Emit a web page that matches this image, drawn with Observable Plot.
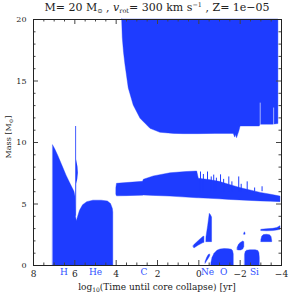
<!DOCTYPE html>
<html><head><meta charset="utf-8">
<script src="https://cdn.jsdelivr.net/npm/d3@7"></script>
<script src="https://cdn.jsdelivr.net/npm/@observablehq/plot@0.6"></script>
<style>
body{margin:0;background:#fff;}
#wrap{width:300px;height:297px;position:relative;font-family:"DejaVu Serif",serif;}
#title{height:14px;line-height:15px;font-size:11px;color:#222;margin-left:31px;width:252px;text-align:center;white-space:nowrap;}
#title sub{font-size:6.5px;vertical-align:-2px;line-height:0;}
#title sup{font-size:6.5px;vertical-align:4px;line-height:0;}
</style></head>
<body><div id="wrap"><div id="title">M= 20 M<sub>⊙</sub> , <i>v</i><sub>rot</sub>= 300 km s<sup>−1</sup> , Z= 1e−05</div><div id="chart"></div></div>
<script>
const blue = "#1e3cff";
// H core + He core convection (top boundary, bottom at 0)
const coreX   = [7.05, 6.95, 6.8, 6.6, 6.4, 6.2, 6.02, 5.97, 5.95, 5.9, 5.85, 5.75, 5.6, 5.4, 5.1, 4.7, 4.4, 4.25, 4.16, 4.14];
const coreTop = [9.76, 9.45, 8.9, 8.1, 7.3, 6.6, 6.0, 5.6, 4.0, 3.6, 3.9, 4.45, 4.9, 5.15, 5.27, 5.27, 5.2, 5.0, 4.6, 4.3];
// thin spike at end of H burning
const spikeM  = [11.3, 8.6, 8.0, 7.5, 7.0, 6.6, 4.0];
const spikeX2 = [5.915, 5.915, 5.85, 5.83, 5.86, 5.91, 5.915];
// convective envelope (from lower boundary up to surface)
const envX   = [3.71, 3.68, 3.62, 3.55, 3.39, 3.15, 2.82, 2.34, 1.86, 1.2, 0.73, 0, -0.8, -1.69, -1.76, -1.8, -1.85, -1.9, -1.96, -2.02, -2.5, -2.95, -3.0, -3.3, -3.6, -3.85];
const envLow = [20, 18.5, 17.3, 16.3, 14.4, 13.0, 11.93, 11.11, 10.79, 10.7, 10.68, 10.68, 10.7, 10.7, 10.4, 10.6, 10.35, 10.6, 10.9, 11.3, 11.3, 11.3, 11.45, 11.45, 11.45, 11.5];
const gapX  = [-2.97, -3.62];
const gapLo = [11.3, 11.4];
const gapHi = [13.2, 12.8];
// intermediate convective shell
const shellX  = [3.99, 3.96, 3.5, 2.7, 2.66, 2.18, 1.37, 0.6, 0.08, 0.0, -0.5, -1.0, -1.5, -2.0, -2.5, -3.0, -3.5, -3.95];
const shellLo = [5.75, 5.62, 5.64, 5.68, 5.69, 5.66, 5.6, 5.52, 5.47, 5.46, 5.43, 5.38, 5.33, 5.29, 5.25, 5.21, 5.18, 5.15];
const shellHi = [6.3, 6.64, 6.7, 6.8, 6.97, 7.24, 7.5, 7.6, 7.64, 7.05, 6.95, 6.8, 6.55, 6.3, 6.1, 5.9, 5.75, 5.6];
const shSpikeX   = [-0.08, -0.22, -0.42, -0.6, -0.72, -0.85, -1.05, -1.2, -1.45, -1.6, -1.93, -2.05, -2.34, -2.7, -3.06, -3.4];
const shSpikeTop = [7.6, 7.4, 7.6, 7.2, 7.35, 7.1, 7.37, 7.0, 7.2, 6.8, 7.2, 6.6, 6.8, 6.3, 6.4, 6.0];
// late burning stages
const cShX  = [0.245, 0.2, 0.0, -0.2, -0.27];
const cShLo = [1.45, 1.41, 1.62, 1.8, 1.84];
const cShHi = [1.6, 1.68, 2.0, 2.3, 2.35];
const neShX  = [-0.37, -0.45, -0.53, -0.58, -0.64];
const neShLo = [1.9, 1.9, 1.9, 1.9, 1.9];
const neShHi = [2.3, 3.2, 4.2, 4.1, 3.9];
const hookX  = [-0.33, -0.4, -0.48, -0.55];
const hookLo = [0.15, 0.35, 0.55, 0.75];
const hookHi = [0.3, 0.6, 0.85, 0.9];
const neCoreX  = [-0.61, -0.66, -0.76, -0.9, -1.05, -1.25, -1.45, -1.6, -1.66, -1.69];
const neCoreHi = [0.2, 0.6, 0.95, 1.2, 1.3, 1.34, 1.33, 1.28, 1.15, 0.9];
const oShX  = [-1.88, -1.95, -2.05, -2.15, -2.2];
const oShLo = [1.25, 1.22, 1.22, 1.3, 1.5];
const oShHi = [1.45, 1.7, 1.85, 1.95, 1.9];
const blipX  = [-2.2, -2.23, -2.26];
const blipLo = [2.5, 2.5, 2.5];
const blipHi = [2.6, 2.7, 2.6];
const oCoreX  = [-2.24, -2.27, -2.33, -2.5, -2.75, -2.88, -2.93, -2.95];
const oCoreHi = [0.9, 1.1, 1.2, 1.24, 1.24, 1.18, 1.0, 0.6];
const siShX  = [-3.03, -3.07, -3.15, -3.3, -3.45, -3.52, -3.55];
const siShLo = [1.9, 1.9, 1.9, 1.9, 1.9, 1.9, 1.9];
const siShHi = [2.1, 2.35, 2.47, 2.5, 2.45, 2.3, 2.0];
const si2X  = [-3.03, -3.3, -3.6, -3.8, -3.95];
const si2Lo = [2.8, 2.78, 2.8, 2.85, 2.9];
const si2Hi = [2.9, 2.95, 2.98, 3.05, 3.2];
// axis ticks and burning-phase labels
const xTicks = [8, 6, 4, 2, 0, -2, -4];
const xMinor = d3.range(-4, 8.01, 0.5);
const yTicks = [0, 5, 10, 15, 20];
const yMinor = d3.range(0, 20.01, 1);
const burnNames = ["H", "He", "C", "Ne", "O", "Si"];
const burnX = [6.53, 5.0, 2.66, -0.42, -1.2, -2.69];

const zone = (name, xs, lo, hi) => xs.map((x, i) => ({zone: name, x, lo: lo ? lo[i] : 0, hi: hi[i]}));
const rows = [
  ...zone("core", coreX, null, coreTop),
  ...zone("env", envX, envLow, envX.map(() => 20)),
  ...zone("shell", shellX, shellLo, shellHi),
  ...zone("cSh", cShX, cShLo, cShHi),
  ...zone("neSh", neShX, neShLo, neShHi),
  ...zone("hook", hookX, hookLo, hookHi),
  ...zone("neCore", neCoreX, null, neCoreHi),
  ...zone("oSh", oShX, oShLo, oShHi),
  ...zone("blip", blipX, blipLo, blipHi),
  ...zone("oCore", oCoreX, null, oCoreHi),
  ...zone("siSh", siShX, siShLo, siShHi),
  ...zone("si2", si2X, si2Lo, si2Hi)
];
const spikeRows = spikeM.map((m, i) => ({m, a: 5.955, b: spikeX2[i]}));
const gapRows = gapX.map((x, i) => ({x, lo: gapLo[i], hi: gapHi[i]}));
const shSpikeRows = shSpikeX.map((x, i) => ({x, lo: 6.0, hi: shSpikeTop[i]}));
const innerH = 246;
const majX = xMinor.filter(v => Math.abs(v % 2) < 1e-9);
const minX = xMinor.filter(v => Math.abs(v % 2) >= 1e-9);
const majY = yMinor.filter(v => v % 5 === 0);
const minY = yMinor.filter(v => v % 5 !== 0);
const tc = "#444";

const chart = Plot.plot({
  width: 300, height: 283,
  marginTop: 5, marginBottom: 32, marginLeft: 33, marginRight: 19,
  style: {fontFamily: "DejaVu Serif, serif", fontSize: "9px", color: "#222", background: "#fff"},
  x: {domain: [8, -4]},
  y: {domain: [0, 20]},
  marks: [
    Plot.areaY(rows, {x: "x", y1: "lo", y2: "hi", z: "zone", fill: blue, stroke: blue, strokeWidth: 0.4}),
    Plot.areaX(spikeRows, {y: "m", x1: "a", x2: "b", fill: blue}),
    Plot.ruleX(shSpikeRows, {x: "x", y1: "lo", y2: "hi", stroke: blue, strokeWidth: 1}),
    Plot.ruleX(gapRows, {x: "x", y1: "lo", y2: "hi", stroke: "white", strokeWidth: 0.6}),
    Plot.ruleX(majX, {x: d => d, insetTop: innerH - 5, stroke: tc}),
    Plot.ruleX(minX, {x: d => d, insetTop: innerH - 2.5, stroke: tc}),
    Plot.ruleX(majX, {x: d => d, insetBottom: innerH - 5, stroke: tc}),
    Plot.ruleX(minX, {x: d => d, insetBottom: innerH - 2.5, stroke: tc}),
    Plot.ruleY(majY, {y: d => d, insetRight: 248 - 5, stroke: tc}),
    Plot.ruleY(minY, {y: d => d, insetRight: 248 - 2.5, stroke: tc}),
    Plot.ruleY(majY, {y: d => d, insetLeft: 248 - 5, stroke: tc}),
    Plot.ruleY(minY, {y: d => d, insetLeft: 248 - 2.5, stroke: tc}),
    Plot.frame({stroke: "#222", strokeWidth: 1}),
    Plot.axisX(xTicks, {tickSize: 0, tickPadding: 5, label: null, fontSize: 9, tickFormat: d => d < 0 ? "\u2212" + (-d) : String(d)}),
    Plot.axisY(yTicks, {tickSize: 0, tickPadding: 7, label: null, fontSize: 8}),
    Plot.text(burnNames, {x: burnX, text: d => d, frameAnchor: "bottom", dy: 9, fill: "#3050ff", fontSize: 9})
  ]
});
document.getElementById("chart").appendChild(chart);
const svg = d3.select(chart);
const xl = svg.append("text").attr("x", 157).attr("y", 276).attr("text-anchor", "middle")
  .attr("font-size", 9).attr("fill", "#222").attr("font-family", "DejaVu Serif, serif");
xl.append("tspan").text("log");
xl.append("tspan").attr("font-size", 6).attr("dy", 2).text("10");
xl.append("tspan").attr("dy", -2).text("(Time until core collapse) [yr]");
const yl = svg.append("text").attr("transform", "translate(11,123) rotate(-90)").attr("text-anchor", "middle")
  .attr("font-size", 8).attr("fill", "#222").attr("font-family", "DejaVu Serif, serif");
yl.append("tspan").text("Mass [M");
yl.append("tspan").attr("font-size", 5.5).attr("dy", 2).text("⊙");
yl.append("tspan").attr("dy", -2).text("]");
</script></body></html>
